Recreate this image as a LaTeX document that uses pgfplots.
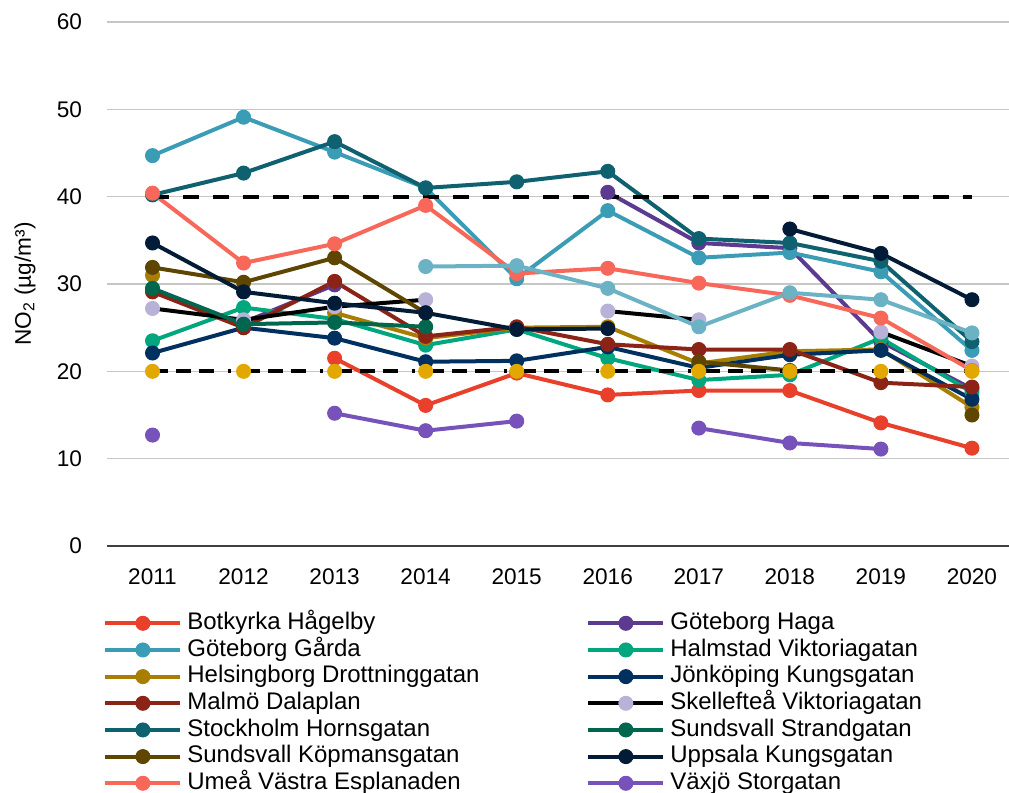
\documentclass[border=0pt]{standalone}
\usepackage{fontspec}
\setmainfont{Liberation Sans}
\usepackage{pgfplots}
\pgfplotsset{compat=1.18}

\definecolor{cBotkyrka}{HTML}{E8402A}
\definecolor{cGarda}{HTML}{3A9DB5}
\definecolor{cHelsingborg}{HTML}{A87E00}
\definecolor{cMalmo}{HTML}{8B2417}
\definecolor{cStockholm}{HTML}{0F6170}
\definecolor{cKopmans}{HTML}{5E4600}
\definecolor{cUmea}{HTML}{F7685A}
\definecolor{cHaga}{HTML}{5B3A8F}
\definecolor{cHalmstad}{HTML}{00A67E}
\definecolor{cJonkoping}{HTML}{00305F}
\definecolor{cSkelleftea}{HTML}{B8B2D9}
\definecolor{cStrand}{HTML}{00664E}
\definecolor{cUppsala}{HTML}{021B37}
\definecolor{cVaxjo}{HTML}{7652BA}
\definecolor{cLight}{HTML}{6BB2C5}
\definecolor{cTarget}{HTML}{E2A800}
\definecolor{gridgray}{HTML}{C6C6C6}

% round markers of radius 3.75pt, filled and outlined in one colour
\pgfplotsset{
  dot/.style={mark=*, mark size=3.5pt,
    mark options={solid, line width=0.5pt, draw=#1, fill=#1}},
  station/.style={line width=2pt, color=#1, dot=#1},
}

\begin{document}
\begin{tikzpicture}
\begin{axis}[
  scale only axis, width=455.25pt, height=262pt,
  xmin=2010.5, xmax=2020.5, ymin=0, ymax=60,
  xtick={2011,2012,...,2020}, ytick={0,10,...,60},
  /pgf/number format/assume math mode=true,
  /pgf/number format/set thousands separator={},
  ticklabel style={font=\fontsize{11.3}{13.5}\selectfont},
  xticklabel style={yshift=-8pt},
  yticklabel style={xshift=-9pt},
  axis line style={draw=none},
  tick style={draw=none},
  ymajorgrids, grid style={gridgray, line width=0.75pt},
  extra y ticks={0}, extra y tick labels={},
  extra y tick style={grid style={black!75, line width=0.75pt}},
  ylabel={NO\textsubscript{2} (µg/m³)},
  ylabel style={font=\fontsize{11.3}{13.5}\selectfont, at={(axis description cs:-0.09,0.5)}, anchor=center, rotate=0},
  unbounded coords=jump,
  clip=false,
  legend columns=2,
  legend cell align=left,
  legend image code/.code={
    \draw[#1, mark repeat=2, mark phase=2] plot coordinates {(0pt,0pt) (18.75pt,0pt) (37.5pt,0pt)};
  },
  legend style={
    draw=none, fill=none, inner sep=0pt,
    at={(axis description cs:-0.0044,-0.1256)}, anchor=north west,
    font=\fontsize{12}{14}\selectfont,
    nodes={inner sep=0pt, text height=8.6pt, text depth=2.5pt},
    column sep=2.5pt, row sep=2.23pt,
    /tikz/every even column/.append style={column sep=53.4pt},
  },
]
% Botkyrka Hågelby
\addplot[station=cBotkyrka] coordinates {
  (2011,nan) (2012,nan) (2013,21.5) (2014,16.1) (2015,19.8) (2016,17.3)
  (2017,17.8) (2018,17.8) (2019,14.1) (2020,11.2)};
\addlegendentry{Botkyrka Hågelby}
% Göteborg Haga
\addplot[station=cHaga] coordinates {
  (2011,nan) (2012,25.6) (2013,29.9) (2014,nan) (2015,nan) (2016,40.5)
  (2017,34.7) (2018,34.1) (2019,23.4) (2020,18.0)};
\addlegendentry{Göteborg Haga}
% Göteborg Gårda
\addplot[station=cGarda] coordinates {
  (2011,44.7) (2012,49.1) (2013,45.1) (2014,41.0) (2015,30.6) (2016,38.4)
  (2017,33.0) (2018,33.6) (2019,31.4) (2020,22.4)};
\addlegendentry{Göteborg Gårda}
% Halmstad Viktoriagatan
\addplot[station=cHalmstad] coordinates {
  (2011,23.5) (2012,27.3) (2013,26.0) (2014,23.0) (2015,24.8) (2016,21.5)
  (2017,19.0) (2018,19.6) (2019,23.8) (2020,17.6)};
\addlegendentry{Halmstad Viktoriagatan}
% Helsingborg Drottninggatan
\addplot[station=cHelsingborg] coordinates {
  (2011,31.0) (2012,nan) (2013,26.7) (2014,23.8) (2015,25.0) (2016,25.1)
  (2017,20.9) (2018,22.3) (2019,22.5) (2020,15.9)};
\addlegendentry{Helsingborg Drottninggatan}
% Jönköping Kungsgatan
\addplot[station=cJonkoping] coordinates {
  (2011,22.1) (2012,25.0) (2013,23.8) (2014,21.1) (2015,21.2) (2016,22.8)
  (2017,20.4) (2018,21.9) (2019,22.4) (2020,16.8)};
\addlegendentry{Jönköping Kungsgatan}
% Malmö Dalaplan
\addplot[station=cMalmo] coordinates {
  (2011,29.1) (2012,25.0) (2013,30.3) (2014,24.0) (2015,25.1) (2016,23.1)
  (2017,22.5) (2018,22.5) (2019,18.7) (2020,18.2)};
\addlegendentry{Malmö Dalaplan}
% Skellefteå Viktoriagatan: black line, lilac markers
\addplot[line width=2pt, color=black, dot=cSkelleftea] coordinates {
  (2011,27.2) (2012,25.9) (2013,27.4) (2014,28.2) (2015,nan) (2016,26.9)
  (2017,25.9) (2018,nan) (2019,24.5) (2020,20.6)};
\addlegendentry{Skellefteå Viktoriagatan}
% Stockholm Hornsgatan
\addplot[station=cStockholm] coordinates {
  (2011,40.2) (2012,42.7) (2013,46.3) (2014,41.0) (2015,41.7) (2016,42.9)
  (2017,35.2) (2018,34.7) (2019,32.6) (2020,23.4)};
\addlegendentry{Stockholm Hornsgatan}
% Sundsvall Strandgatan
\addplot[station=cStrand] coordinates {
  (2011,29.5) (2012,25.4) (2013,25.6) (2014,25.1)};
\addlegendentry{Sundsvall Strandgatan}
% Sundsvall Köpmansgatan
\addplot[station=cKopmans] coordinates {
  (2011,31.9) (2012,30.2) (2013,33.0) (2014,26.7) (2015,nan) (2016,nan)
  (2017,21.1) (2018,20.1) (2019,nan) (2020,15.0)};
\addlegendentry{Sundsvall Köpmansgatan}
% Uppsala Kungsgatan
\addplot[station=cUppsala] coordinates {
  (2011,34.7) (2012,29.1) (2013,27.8) (2014,26.7) (2015,24.8) (2016,24.9)
  (2017,nan) (2018,36.3) (2019,33.5) (2020,28.2)};
\addlegendentry{Uppsala Kungsgatan}
% Umeå Västra Esplanaden
\addplot[station=cUmea] coordinates {
  (2011,40.4) (2012,32.4) (2013,34.6) (2014,39.0) (2015,31.2) (2016,31.8)
  (2017,30.1) (2018,28.7) (2019,26.1) (2020,20.1)};
\addlegendentry{Umeå Västra Esplanaden}
% Växjö Storgatan
\addplot[station=cVaxjo] coordinates {
  (2011,12.7) (2012,nan) (2013,15.2) (2014,13.2) (2015,14.3) (2016,nan)
  (2017,13.5) (2018,11.8) (2019,11.1)};
\addlegendentry{Växjö Storgatan}
% further station
\addplot[station=cLight, forget plot] coordinates {
  (2014,32.0) (2015,32.1) (2016,29.5) (2017,25.1) (2018,29.0) (2019,28.2) (2020,24.4)};
% limit value 40
\addplot[black, line width=2pt, dash pattern=on 8pt off 7pt, forget plot] coordinates {
  (2011,40) (2020,40)};
% target value 20
\addplot[black, line width=2pt, dash pattern=on 7.5pt off 4pt on 7.5pt off 4pt on 7.5pt off 7pt on 1.5pt off 7pt, forget plot] coordinates {
  (2011,20) (2020,20)};
\addplot[only marks, dot=cTarget, forget plot] coordinates {
  (2011,20) (2012,20) (2013,20) (2014,20) (2015,20) (2016,20) (2017,20) (2018,20) (2019,20) (2020,20)};
\end{axis}
\pgfresetboundingbox
\useasboundingbox (-53.5pt,-123.5pt) rectangle (451pt,273pt);
\end{tikzpicture}
\end{document}
